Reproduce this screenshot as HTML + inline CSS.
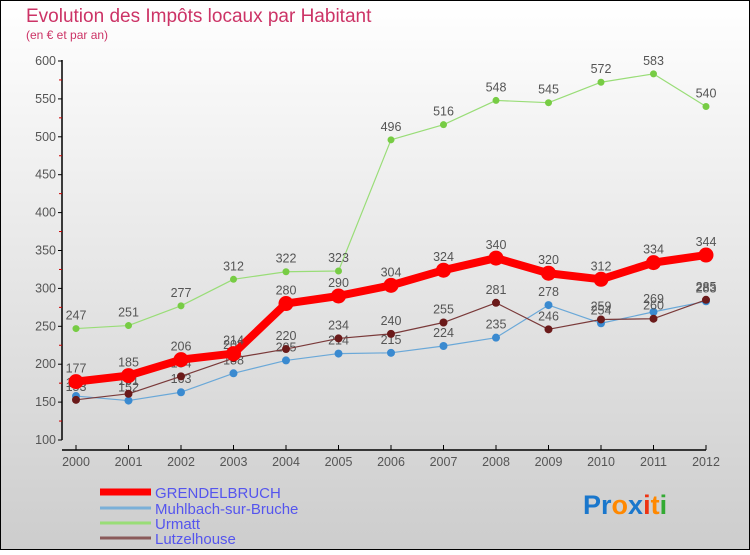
<!DOCTYPE html>
<html><head><meta charset="utf-8"><style>
body{margin:0;width:750px;height:550px;overflow:hidden;font-family:"Liberation Sans",sans-serif}
</style></head><body>
<svg id="chart" width="750" height="550" xmlns="http://www.w3.org/2000/svg">
<defs><linearGradient id="bg" x1="0" y1="0" x2="0" y2="1"><stop offset="0" stop-color="#ffffff"/><stop offset="1" stop-color="#cdcdcd"/></linearGradient></defs>
<rect x="0.5" y="0.5" width="749" height="549" fill="url(#bg)" stroke="#000"/>
<text x="26" y="22" font-size="19" fill="#cc3366">Evolution des Impôts locaux par Habitant</text>
<text x="26" y="39" font-size="12" fill="#cc3366">(en € et par an)</text>
<g id="axes"></g><g id="series"></g>
<g>
<line x1="100" y1="492" x2="151" y2="492" stroke="#ff0000" stroke-width="7"/>
<text x="155" y="498" font-size="15" fill="#5555ee">GRENDELBRUCH</text>
<line x1="100" y1="508" x2="151" y2="508" stroke="#7ab0d8" stroke-width="3"/>
<text x="155" y="514" font-size="15" fill="#5555ee">Muhlbach-sur-Bruche</text>
<line x1="100" y1="523" x2="151" y2="523" stroke="#99dd77" stroke-width="3"/>
<text x="155" y="529" font-size="15" fill="#5555ee">Urmatt</text>
<line x1="100" y1="538" x2="151" y2="538" stroke="#8a5a5a" stroke-width="3"/>
<text x="155" y="544" font-size="15" fill="#5555ee">Lutzelhouse</text>
</g>
<text x="583" y="514" font-size="27" font-weight="bold"><tspan fill="#1a77cc">Pr</tspan><tspan fill="#ff8800">o</tspan><tspan fill="#1a77cc">x</tspan><tspan fill="#ee3311">i</tspan><tspan fill="#ff8800">t</tspan><tspan fill="#33aa33">i</tspan></text>
</svg>
<script>
const years=[2000,2001,2002,2003,2004,2005,2006,2007,2008,2009,2010,2011,2012];
const grendelbruch=[177,185,206,214,280,290,304,324,340,320,312,334,344];
const muhlbach=[158,152,163,188,205,214,215,224,235,278,254,269,283];
const urmatt=[247,251,277,312,322,323,496,516,548,545,572,583,540];
const lutzelhouse=[153,161,184,208,220,234,240,255,281,246,259,260,285];
const yTicks=[100,150,200,250,300,350,400,450,500,550,600];
const NS="http://www.w3.org/2000/svg";
const X=i=>76+i*52.5;
const Y=v=>440-(v-100)*0.758;
function mk(tag,attrs,parent,txt){const e=document.createElementNS(NS,tag);for(const k in attrs)e.setAttribute(k,attrs[k]);if(txt!==undefined)e.textContent=txt;parent.appendChild(e);return e;}
const ax=document.getElementById('axes');
let a=mk('line',{x1:62,y1:60,x2:62,y2:440,stroke:'#000','stroke-width':1.5},ax);


a=mk('line',{x1:62,y1:450,x2:706,y2:450,stroke:'#000','stroke-width':1.5},ax);


yTicks.forEach((t,i)=>{
 mk('line',{x1:58,y1:Y(t),x2:62,y2:Y(t),stroke:'#000'},ax);
 if(i<yTicks.length-1)mk('line',{x1:59,y1:Y(t+25),x2:62,y2:Y(t+25),stroke:'#cc0000'},ax);
 const l=mk('text',{x:56,y:Y(t)+4,'font-size':12.5,fill:'#555','text-anchor':'end'},ax,t);
 
 
});
years.forEach((yr,i)=>{
 mk('line',{x1:X(i),y1:445,x2:X(i),y2:450,stroke:'#000'},ax);
 const l=mk('text',{x:X(i),y:466,'font-size':12.5,fill:'#555','text-anchor':'middle'},ax,yr);
 
 
});
const sg=document.getElementById('series');
function draw(name,vals,lc,mc,lw,r){
 const g=mk('g',{},sg);
 
 
 const p=mk('polyline',{points:vals.map((v,i)=>X(i)+','+Y(v)).join(' '),fill:'none',stroke:lc,'stroke-width':lw,'stroke-linejoin':'round'},g);
 
 
 vals.forEach((v,i)=>{
  const c=mk('circle',{cx:X(i),cy:Y(v),r:r,fill:mc},g);
  
  
  const t=mk('text',{x:X(i),y:Y(v)-9,'font-size':12.5,fill:'#555','text-anchor':'middle'},g,v);
  
  
 });
}
draw('urmatt',urmatt,'#99dd77','#77cc44',1.2,3.5);
draw('muhlbach',muhlbach,'#6aa8d8','#3a8ad0',1.2,4);
draw('lutzelhouse',lutzelhouse,'#7a3a3a','#6b1a1a',1.2,4);
draw('grendelbruch',grendelbruch,'#ff0000','#ff0000',8,7.5);
</script>
</body></html>
